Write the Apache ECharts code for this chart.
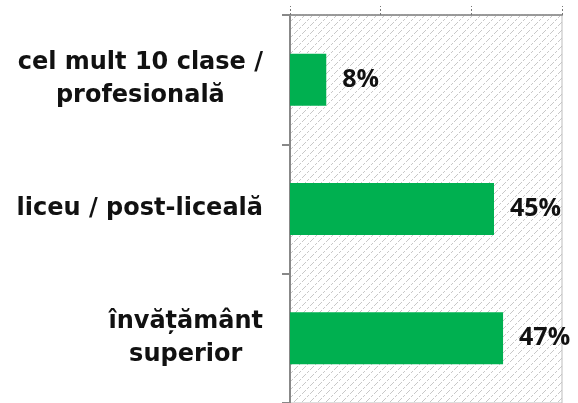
<!DOCTYPE html>
<html>
<head>
<meta charset="utf-8">
<script src="https://cdn.jsdelivr.net/npm/echarts@6/dist/echarts.min.js"></script>
<style>
html,body{margin:0;padding:0;background:#fff;}
#chart{width:578px;height:403px;}
</style>
</head>
<body>
<div id="chart"></div>
<script>
//categorii si valori
var categories=['cel mult 10 clase /\nprofesională','liceu / post-liceală','învățământ\nsuperior'];
var values=[8,45,47];
var axisTicks=[0,20,40,60];

//fundal hasurat (linii diagonale punctate)
function hatch(){
    var n=8;
    var c=document.createElement('canvas');
    c.width=n;c.height=n;
    var ctx=c.getContext('2d');
    ctx.fillStyle='#fff';
    ctx.fillRect(0,0,n,n);
    ctx.fillStyle='#c8c8c8';
    for(var x=0;x<n;x++){
        if(x==2||x==5) continue;
        ctx.fillRect(x,n-1-x,1,1);
    }
    return c;
}
//eticheta pe mai multe randuri, centrata
function fmtLabel(v){
    return v.split('\n').map(function(s){return '{c|'+s+'}';}).join('\n');
}
var chart=echarts.init(document.getElementById('chart'));
var option={
    animation:false,
    grid:{
        left:290,right:16,top:15,height:391,
        show:true,
        backgroundColor:{image:hatch(),repeat:'repeat'},
        borderColor:'#bdbdbd',
        borderWidth:1
    },
    xAxis:{
        type:'value',
        position:'top',
        min:axisTicks[0],
        max:axisTicks[axisTicks.length-1],
        interval:20,
        axisLabel:{show:false},
        splitLine:{show:false},
        axisLine:{show:true,lineStyle:{color:'#999',width:2,type:[2,1]}},
        axisTick:{show:true,length:9,lineStyle:{color:'#777',width:1,type:[2,2]}}
    },
    yAxis:{
        type:'category',
        inverse:true,
        data:categories,
        axisLine:{show:true,lineStyle:{color:'#888',width:2}},
        axisTick:{show:true,length:8,lineStyle:{color:'#888',width:2}},
        axisLabel:{
            margin:27,
            align:'right',
            formatter:fmtLabel,
            rich:{
                c:{
                    align:'center',
                    fontFamily:'DejaVu Sans',
                    fontWeight:'bold',
                    fontSize:24,
                    lineHeight:33,
                    color:'#111'
                }
            }
        }
    },
    series:[{
        type:'bar',
        data:values,
        barWidth:52,
        itemStyle:{color:'#00B050'},
        label:{
            show:true,
            position:'right',
            distance:16,
            formatter:'{c}%',
            fontFamily:'Open Sans',
            fontWeight:'bold',
            fontSize:25,
            color:'#111'
        }
    }]
};
chart.setOption(option);
</script>
</body>
</html>
